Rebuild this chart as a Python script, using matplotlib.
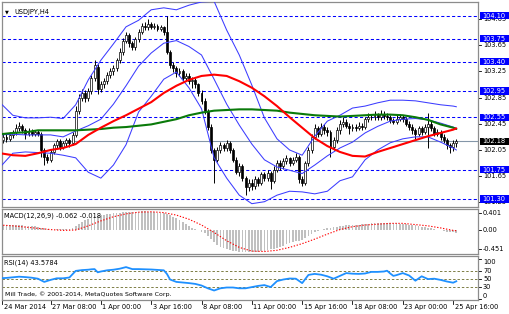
import matplotlib
matplotlib.use('Agg')
import matplotlib.pyplot as plt
import numpy as np
from matplotlib.patches import Rectangle
from matplotlib.transforms import blended_transform_factory as btf

# ---------------- data ----------------
open_ = [
102.25, 102.20, 102.25, 102.22, 102.28, 102.32, 102.38, 102.42, 102.35, 102.30,
102.34, 102.30, 102.33, 102.30, 102.05, 101.95, 101.90, 102.02, 102.12, 102.18,
102.10, 102.15, 102.20, 102.15, 102.28, 102.65, 102.85, 102.92, 102.85, 102.95,
103.15, 103.32, 102.98, 103.05, 103.10, 103.20, 103.25, 103.30, 103.42, 103.55,
103.72, 103.80, 103.68, 103.62, 103.75, 103.85, 103.95, 103.92, 103.98, 103.93,
103.95, 103.90, 103.92, 103.85, 103.55, 103.35, 103.30, 103.22, 103.25, 103.15,
103.18, 103.10, 103.12, 103.05, 102.92, 102.80, 102.65, 102.40, 102.05, 101.90,
102.05, 102.12, 102.08, 102.15, 102.05, 101.90, 101.72, 101.80, 101.62, 101.48,
101.55, 101.50, 101.60, 101.55, 101.68, 101.62, 101.70, 101.58, 101.75, 101.85,
101.80, 101.88, 101.92, 101.85, 101.90, 101.95, 101.60, 101.55, 101.85, 102.05,
102.25, 102.38, 102.30, 102.40, 102.35, 102.32, 102.10, 102.20, 102.35, 102.45,
102.48, 102.42, 102.38, 102.40, 102.38, 102.42, 102.40, 102.52, 102.56, 102.55,
102.58, 102.55, 102.60, 102.57, 102.55, 102.50, 102.48, 102.53, 102.55, 102.52,
102.45, 102.40, 102.35, 102.30, 102.38, 102.33, 102.40, 102.45, 102.38, 102.30,
102.32, 102.25, 102.20, 102.12, 102.10, 102.15]
close = [
102.20, 102.25, 102.22, 102.28, 102.32, 102.38, 102.42, 102.35, 102.30, 102.34,
102.30, 102.33, 102.30, 102.05, 101.95, 101.90, 102.02, 102.12, 102.18, 102.10,
102.15, 102.20, 102.15, 102.28, 102.65, 102.85, 102.92, 102.85, 102.95, 103.15,
103.35, 102.98, 103.05, 103.10, 103.20, 103.25, 103.30, 103.42, 103.55, 103.72,
103.80, 103.68, 103.62, 103.75, 103.85, 103.95, 103.92, 103.98, 103.93, 103.95,
103.90, 103.92, 103.85, 103.55, 103.35, 103.30, 103.22, 103.25, 103.15, 103.18,
103.10, 103.12, 103.05, 102.92, 102.80, 102.65, 102.40, 102.05, 101.90, 102.05,
102.12, 102.08, 102.15, 102.05, 101.90, 101.72, 101.80, 101.62, 101.48, 101.55,
101.50, 101.60, 101.55, 101.68, 101.62, 101.70, 101.58, 101.75, 101.85, 101.80,
101.88, 101.92, 101.85, 101.90, 101.95, 101.60, 101.55, 101.85, 102.05, 102.25,
102.38, 102.30, 102.40, 102.35, 102.32, 102.10, 102.20, 102.35, 102.45, 102.48,
102.42, 102.38, 102.40, 102.38, 102.42, 102.40, 102.52, 102.56, 102.55, 102.58,
102.55, 102.60, 102.57, 102.55, 102.50, 102.48, 102.53, 102.55, 102.52, 102.45,
102.40, 102.35, 102.30, 102.38, 102.33, 102.40, 102.45, 102.38, 102.30, 102.32,
102.25, 102.20, 102.12, 102.10, 102.15, 102.18]
high = [
102.30, 102.30, 102.29, 102.33, 102.36, 102.44, 102.48, 102.45, 102.38, 102.38,
102.37, 102.36, 102.36, 102.33, 102.08, 101.99, 102.06, 102.16, 102.22, 102.21,
102.19, 102.24, 102.23, 102.32, 102.72, 102.90, 102.98, 102.96, 103.00, 103.20,
103.42, 103.36, 103.10, 103.15, 103.24, 103.30, 103.35, 103.46, 103.60, 103.76,
103.85, 103.84, 103.72, 103.78, 103.90, 103.99, 104.00, 104.05, 104.01, 103.99,
103.98, 103.96, 103.95, 104.10, 103.58, 103.40, 103.33, 103.30, 103.28, 103.23,
103.22, 103.16, 103.15, 103.08, 102.96, 102.84, 102.68, 102.44, 102.08, 102.10,
102.17, 102.16, 102.20, 102.18, 102.08, 101.95, 101.85, 101.84, 101.66, 101.60,
101.60, 101.65, 101.64, 101.72, 101.72, 101.75, 101.73, 101.80, 101.90, 101.89,
101.92, 101.97, 101.95, 101.94, 102.00, 101.98, 101.65, 101.88, 102.10, 102.30,
102.44, 102.42, 102.46, 102.44, 102.40, 102.35, 102.25, 102.40, 102.50, 102.55,
102.52, 102.46, 102.45, 102.44, 102.47, 102.46, 102.56, 102.62, 102.60, 102.64,
102.62, 102.66, 102.64, 102.61, 102.59, 102.54, 102.58, 102.60, 102.59, 102.56,
102.49, 102.44, 102.38, 102.42, 102.42, 102.45, 102.62, 102.50, 102.42, 102.37,
102.36, 102.30, 102.24, 102.16, 102.20, 102.22]
low = [
102.12, 102.16, 102.17, 102.19, 102.24, 102.28, 102.34, 102.31, 102.22, 102.26,
102.26, 102.27, 102.26, 101.95, 101.82, 101.85, 101.87, 101.99, 102.08, 102.05,
102.06, 102.11, 102.10, 102.12, 102.25, 102.60, 102.80, 102.78, 102.80, 102.90,
103.10, 102.90, 102.94, 103.00, 103.06, 103.15, 103.20, 103.26, 103.38, 103.50,
103.68, 103.62, 103.58, 103.58, 103.70, 103.82, 103.88, 103.88, 103.89, 103.90,
103.86, 103.87, 103.81, 103.52, 103.30, 103.24, 103.17, 103.18, 103.10, 103.10,
103.05, 103.00, 103.00, 102.88, 102.75, 102.60, 102.36, 102.00, 101.55, 101.86,
102.00, 102.03, 102.04, 102.00, 101.86, 101.68, 101.66, 101.57, 101.36, 101.42,
101.44, 101.46, 101.50, 101.52, 101.57, 101.58, 101.45, 101.55, 101.72, 101.75,
101.76, 101.84, 101.81, 101.82, 101.86, 101.55, 101.50, 101.52, 101.80, 102.00,
102.22, 102.25, 102.26, 102.30, 102.26, 101.95, 102.05, 102.16, 102.30, 102.40,
102.38, 102.30, 102.34, 102.34, 102.35, 102.36, 102.37, 102.48, 102.50, 102.51,
102.50, 102.51, 102.53, 102.51, 102.46, 102.44, 102.45, 102.49, 102.47, 102.41,
102.35, 102.30, 102.22, 102.26, 102.28, 102.30, 102.08, 102.34, 102.26, 102.26,
102.20, 102.15, 102.06, 102.00, 102.03, 102.10]

# indicator lines read every 4 bars (bar numbers in line_idx)
line_idx = list(range(0, 145, 4)) + [145]
bb_upper = [102.77, 102.58, 102.54, 102.54, 102.55, 102.53, 102.74, 103.12, 103.42, 103.67,
            103.93, 104.03, 104.19, 104.22, 104.19, 104.26, 104.31, 104.32, 103.88, 103.50,
            103.04, 102.54, 102.22, 102.05, 101.97, 102.26, 102.49, 102.58, 102.69, 102.72,
            102.77, 102.81, 102.81, 102.80, 102.77, 102.74, 102.72, 102.71]
bb_middle = [102.28, 102.29, 102.28, 102.28, 102.28, 102.25, 102.34, 102.42, 102.52, 102.75,
             103.03, 103.33, 103.53, 103.68, 103.72, 103.63, 103.50, 103.13, 102.75, 102.43,
             102.14, 101.90, 101.79, 101.74, 101.69, 101.82, 101.96, 102.08, 102.17, 102.31,
             102.41, 102.49, 102.52, 102.53, 102.51, 102.46, 102.40, 102.38]
bb_lower = [101.79, 102.00, 102.02, 102.01, 102.00, 101.97, 101.93, 101.71, 101.62, 101.82,
            102.13, 102.63, 102.87, 103.13, 103.24, 103.00, 102.68, 101.93, 101.62, 101.36,
            101.23, 101.26, 101.36, 101.42, 101.41, 101.38, 101.42, 101.58, 101.64, 101.90,
            102.05, 102.16, 102.22, 102.25, 102.25, 102.17, 102.08, 102.05]
ma_red = [102.00, 101.97, 101.96, 102.00, 102.05, 102.08, 102.14, 102.28, 102.39, 102.49,
          102.58, 102.68, 102.78, 102.92, 103.03, 103.12, 103.18, 103.20, 103.18, 103.10,
          103.00, 102.87, 102.72, 102.55, 102.39, 102.23, 102.11, 102.02, 101.96, 101.95,
          102.02, 102.08, 102.14, 102.20, 102.26, 102.31, 102.36, 102.38]
ma_green = [102.29, 102.31, 102.32, 102.35, 102.35, 102.35, 102.35, 102.36, 102.37, 102.39,
            102.40, 102.42, 102.44, 102.48, 102.52, 102.58, 102.62, 102.65, 102.66, 102.67,
            102.67, 102.66, 102.65, 102.62, 102.60, 102.58, 102.57, 102.56, 102.57, 102.58,
            102.59, 102.59, 102.58, 102.55, 102.51, 102.44, 102.39, 102.37]
macd_signal = [0.12, 0.10, 0.07, 0.04, 0.01, -0.01, 0.00, 0.10, 0.22, 0.32,
               0.39, 0.43, 0.44, 0.42, 0.36, 0.26, 0.12, -0.06, -0.26, -0.42,
               -0.51, -0.52, -0.49, -0.42, -0.33, -0.22, -0.10, 0.01, 0.08, 0.12,
               0.14, 0.16, 0.16, 0.13, 0.10, 0.05, -0.01, -0.018]
macd_main = [
0.12, 0.12, 0.11, 0.11, 0.11, 0.11, 0.11, 0.11, 0.10, 0.10,
0.09, 0.09, 0.08, 0.06, 0.04, 0.02, 0.01, 0.01, 0.02, 0.02,
0.02, 0.03, 0.03, 0.04, 0.09, 0.15, 0.20, 0.23, 0.26, 0.30,
0.34, 0.34, 0.35, 0.36, 0.38, 0.39, 0.40, 0.41, 0.42, 0.43,
0.44, 0.44, 0.44, 0.44, 0.44, 0.45, 0.45, 0.44, 0.44, 0.43,
0.42, 0.41, 0.40, 0.38, 0.35, 0.31, 0.28, 0.24, 0.20, 0.15,
0.10, 0.06, 0.03, 0.00, -0.04, -0.08, -0.14, -0.22, -0.30, -0.36,
-0.41, -0.44, -0.47, -0.49, -0.50, -0.51, -0.52, -0.52, -0.52, -0.53,
-0.53, -0.52, -0.52, -0.51, -0.50, -0.49, -0.47, -0.45, -0.43, -0.40,
-0.38, -0.35, -0.32, -0.29, -0.27, -0.26, -0.24, -0.20, -0.15, -0.10,
-0.05, -0.02, 0.01, 0.03, 0.05, 0.06, 0.07, 0.08, 0.09, 0.10,
0.11, 0.11, 0.12, 0.12, 0.13, 0.14, 0.15, 0.15, 0.16, 0.16,
0.16, 0.17, 0.17, 0.17, 0.16, 0.16, 0.16, 0.15, 0.15, 0.14,
0.13, 0.12, 0.11, 0.10, 0.08, 0.07, 0.06, 0.04, 0.02, 0.01,
-0.01, -0.02, -0.04, -0.05, -0.06, -0.062]
rsi_idx = [0, 2, 4, 6, 8, 10, 12, 14, 16, 18, 20, 22, 24, 26, 28, 29, 30, 31, 32, 34,
           36, 38, 40, 42, 44, 46, 48, 50, 52, 53, 54, 56, 58, 60, 62, 64, 66, 68, 70, 72,
           74, 76, 78, 80, 82, 84, 86, 88, 90, 92, 94, 96, 98, 100, 102, 104, 106, 108, 110, 112,
           114, 116, 118, 120, 122, 123, 124, 125, 126, 128, 130, 132, 134, 136, 138, 140, 142, 144, 145]
rsi_val = [51, 52, 53.5, 55, 54, 52.5, 50, 42, 47, 51, 51, 53, 69.5, 71.5, 72.5, 73.5, 74, 66, 68, 71,
           72.5, 75, 79, 74, 74, 73.5, 73, 72, 71, 62, 48, 42, 40.5, 39, 37, 33, 26, 20.5, 26, 28,
           28, 26, 26, 29, 32, 34, 29, 44, 48, 50.5, 50, 39, 59.5, 62, 60, 56, 50, 57, 64, 62.5,
           62, 63, 67, 67, 68, 70, 63, 57, 59, 64, 58, 45, 56, 49, 50, 47, 43, 40, 43.58]

h_levels = [104.10, 103.75, 103.40, 102.95, 102.55, 101.75, 101.30]
price_ticks = [104.05, 103.65, 103.25, 102.85, 102.45, 102.05, 101.65, 101.25]
bid = 102.18
macd_ticks = [0.401, 0.00, -0.451]
macd_tick_labels = ['0.401', '0.00', '-0.451']
rsi_levels = [70, 50, 30]
rsi_ticks = [100, 70, 50, 30, 0]
time_pos = [0, 16, 32, 48, 64, 80, 96, 112, 128, 144]
time_labels = ['24 Mar 2014', '27 Mar 08:00', '1 Apr 00:00', '3 Apr 16:00', '8 Apr 08:00',
               '11 Apr 00:00', '15 Apr 16:00', '18 Apr 08:00', '23 Apr 00:00', '25 Apr 16:00']

# ---------------- figure ----------------
plt.rcParams['font.family'] = ['DejaVu Sans']
W, H = 510, 314
fig = plt.figure(figsize=(W / 100, H / 100), dpi=100)
fig.patch.set_facecolor('white')

def rect(x0, y0, x1, y1):
    return [x0 / W, 1 - y1 / H, (x1 - x0) / W, (y1 - y0) / H]

ax = fig.add_axes(rect(2, 2, 478, 206.5))
axm = fig.add_axes(rect(2, 209, 478, 254))
axr = fig.add_axes(rect(2, 256, 478, 300))

XL = (0.57, 151.9)
for a in (ax, axm, axr):
    a.set_xlim(*XL)
    a.set_xticks([])
    a.set_yticks([])
    a.set_facecolor('white')
    for s in a.spines.values():
        s.set_color('#8c8c8c')
        s.set_linewidth(0.9)

ax.set_ylim(101.187, 104.309)
axm.set_ylim(-0.580, 0.507)
axr.set_ylim(-3.25, 106.75)

idx = np.arange(len(close))
o = np.array(open_); c = np.array(close); hi = np.array(high); lo = np.array(low)
blue_dash = '#0000ff'

# horizontal level lines
for lv in h_levels:
    ax.axhline(lv, color=blue_dash, lw=0.75, dashes=(3, 2.2), zorder=1)
ax.axhline(bid, color='#8496a8', lw=0.8, zorder=1)

# candles
ax.vlines(idx, lo, hi, color='black', lw=0.7, zorder=2)
up = c >= o
bot = np.minimum(o, c)
hgt = np.maximum(np.abs(c - o), 0.008)
ax.bar(idx[up], hgt[up], bottom=bot[up], width=0.62, color='white', edgecolor='black', lw=0.5, zorder=2.5)
ax.bar(idx[~up], hgt[~up], bottom=bot[~up], width=0.62, color='black', edgecolor='black', lw=0.5, zorder=2.5)

# indicators
bbc = '#3c3cff'
for series in (bb_upper, bb_middle, bb_lower):
    ax.plot(line_idx, series, color=bbc, lw=0.75, zorder=3)
ax.plot(line_idx, ma_green, color='#0a7a0a', lw=1.5, zorder=3.2, solid_capstyle='round')
ax.plot(line_idx, ma_red, color='#ff0000', lw=1.5, zorder=3.3, solid_capstyle='round')

# MACD
axm.bar(idx, macd_main, width=0.55, color='#c0c0c0', zorder=2)
axm.plot(line_idx, macd_signal, color='#ff0000', lw=0.8, dashes=(1.2, 1.5), zorder=3)

# RSI
for lv in rsi_levels:
    axr.axhline(lv, color='#7d7d45', lw=0.7, dashes=(2.5, 2), zorder=1)
axr.plot(rsi_idx, rsi_val, color='#1e90ff', lw=1.3, zorder=3)

fs = 4.8
# titles
ax.text(0.006, 0.952, '\u25bc', transform=ax.transAxes, fontsize=3.6, va='center', ha='left', color='black')
ax.text(0.025, 0.952, 'USDJPY,H4', transform=ax.transAxes, fontsize=fs, va='center', ha='left', color='black')
axm.text(0.004, 0.84, 'MACD(12,26,9) -0.062 -0.018', transform=axm.transAxes, fontsize=fs, va='center', ha='left')
axr.text(0.004, 0.84, 'RSI(14) 43.5784', transform=axr.transAxes, fontsize=fs, va='center', ha='left')
axr.text(0.006, 0.13, 'Mill Trade, \u00a9 2001-2014, MetaQuotes Software Corp.', transform=axr.transAxes,
         fontsize=4.5, va='center', ha='left')

# right price scale
def rt(a):
    return btf(fig.transFigure, a.transData)

XR = 478 / W
def tick_marks(a, vals, labels, **kw):
    for v, lab in zip(vals, labels):
        a.plot([XR, XR + 3 / W], [v, v], transform=rt(a), clip_on=False, color='black', lw=0.6)
        a.text(XR + 5 / W, v, lab, transform=rt(a), clip_on=False, fontsize=fs, va='center', ha='left', **kw)

tick_marks(ax, price_ticks, ['%.2f' % v for v in price_ticks])
tick_marks(axm, macd_ticks, macd_tick_labels)

# RSI labels (100 and 0 kept inside the panel)
for v in rsi_ticks:
    axr.plot([XR, XR + 3 / W], [v, v], transform=rt(axr), clip_on=False, color='black', lw=0.6)
    va = 'top' if v == 100 else ('bottom' if v == 0 else 'center')
    axr.text(XR + 5 / W, v, str(v), transform=rt(axr), clip_on=False, fontsize=fs, va=va, ha='left')

ylo, yhi = ax.get_ylim()
axpx = ax.get_position().height * H
half = 3.6 * (yhi - ylo) / axpx
def box(lv, fc):
    ax.add_patch(Rectangle((480.5 / W, lv - half), 29.5 / W, 2 * half, transform=rt(ax),
                           facecolor=fc, edgecolor='none', clip_on=False, zorder=10))
    ax.text(482 / W, lv, '%.2f' % lv, transform=rt(ax), clip_on=False, fontsize=fs,
            va='center', ha='left', color='white', zorder=11)
for lv in h_levels:
    box(lv, '#0000ff')
box(bid, 'black')

# time axis
for p, lab in zip(time_pos, time_labels):
    xp = max(p, XL[0])
    axr.plot([xp, xp], [0, -0.09], transform=btf(axr.transData, axr.transAxes), clip_on=False,
             color='black', lw=0.6)
    axr.text(xp + 0.5, -0.16, lab, transform=btf(axr.transData, axr.transAxes), clip_on=False,
             fontsize=fs, va='center', ha='left')

fig.savefig('out.png', dpi=100, facecolor='white')
